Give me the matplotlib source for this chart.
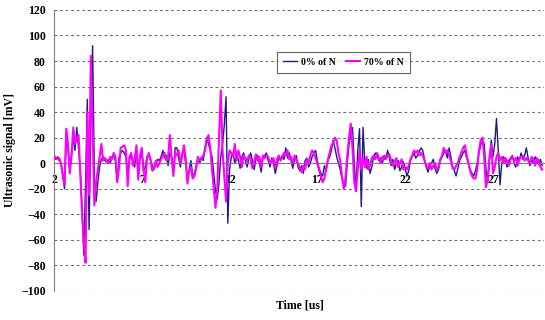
import numpy as np
import matplotlib
matplotlib.use("Agg")
import matplotlib.pyplot as plt

plt.rcParams['font.family'] = ['Liberation Serif', 'DejaVu Serif']
plt.rcParams['font.weight'] = 'bold'

# sampling of the two traces [us]
t_start = 2.0
t_step = 0.1

# ultrasonic signal [mV], one row per microsecond (2.0 ... 29.8 us)
sig_0 = [
    5, 3, 5, 2, 0, -8, -20, 18, 12, -6,          # 2
    8, 20, 10, 28, 12, -5, -35, -72, -15, 50,    # 3
    -52, 30, 92, -10, -30, -15, -3, 3, 5, 2,     # 4
    1, 3, 0, 4, 6, 2, -14, 4, 8, 10,             # 5
    8, 5, -10, 3, 6, 2, -3, 10, -8, 4,           # 6
    8, -6, -3, 5, 7, 2, -2, -5, 0, 3,            # 7
    2, 5, 10, 4, 6, -2, 8, 5, -6, 12,            # 8
    12, 4, -3, 8, 10, 0, -12, -5, 2, -10,        # 9
    -8, -2, 3, 0, 5, 2, 12, 20, 15, 10,          # 10
    5, -8, -22, -28, -15, 5, 15, 30, 52, -47,    # 11
    -5, 5, 8, 0, 6, 3, -4, 5, 8, 2,              # 12
    -3, 4, 8, 2, -5, 3, 6, 0, -7, 4,             # 13
    6, 8, 2, -3, 4, 0, -8, -2, 5, 3,             # 14
    6, 3, 12, 4, 8, 2, -4, 3, 6, -3,             # 15
    -6, -2, -8, 2, 4, -3, 0, 5, 8, 10,           # 16
    2, -4, -8, -10, -2, -6, 2, 5, 10, 18,        # 17
    12, 5, 0, -5, -12, -15, -18, 0, 15, 22,      # 18
    28, 0, -20, 10, 27, -34, 28, 0, -4, 3,       # 19
    -8, -3, 5, 8, 6, 2, 4, 0, 6, 3,              # 20
    10, 4, -2, 3, -5, 0, 2, -6, -3, 1,           # 21
    -4, -10, -6, 2, 5, 8, 4, 6, 9, 12,           # 22
    10, 3, -3, -7, -2, 0, 3, -4, -8, -5,         # 23
    2, 5, 8, 10, 4, 12, 5, -3, -6, -10,          # 24
    -4, 2, 5, 8, 10, 4, 0, -5, -8, -10,          # 25
    -6, 0, 8, 14, 18, 15, -5, -15, 2, 18,        # 26
    5, 15, 35, 10, -17, 0, 5, 3, -3, 2,          # 27
    4, 6, 0, -3, 5, 2, 8, 3, 6, 12,              # 28
    4, -2, 3, 0, 5, 2, -1, 3, -2,                # 29
]

sig_70 = [
    6, 4, 3, 4, 0, -10, -17, 27, 15, -8,         # 2
    5, 28, 15, 20, 22, -8, -40, -62, -78, 40,    # 3
    -25, 84, 25, -33, -15, -5, 5, 15, 2, 4,      # 4
    2, 0, 5, 3, 8, 5, -15, -4, 12, 13,           # 5
    14, 10, -18, 5, 8, -2, 4, 14, -13, 6,        # 6
    12, -5, -15, 4, 8, 3, -6, -4, 2, -3,         # 7
    0, 3, 6, 8, 2, 5, 22, 4, -10, 8,             # 8
    6, 10, 0, 5, 14, 4, -16, -6, -3, -12,        # 9
    -10, -4, 5, 2, 3, 6, 10, 18, 22, 12,         # 10
    -5, -20, -35, -20, 20, 57, 10, -10, -30, 0,  # 11
    10, 8, 5, 15, 2, 10, 5, -3, 6, 4,            # 12
    2, 6, 3, -4, 1, 7, 2, 5, -3, 6,              # 13
    4, 6, 5, 0, 2, 4, -4, 3, 6, 2,               # 14
    4, 8, 6, 10, 3, 5, 0, 6, 2, 0,               # 15
    -4, -7, -2, -5, 3, 0, 6, 10, 8, 4,           # 16
    0, -6, -10, -15, -12, -4, 3, 8, 14, 16,      # 17
    20, 18, 8, 2, -10, -20, -12, 5, 20, 31,      # 18
    12, -15, -22, -5, 10, -5, 4, -3, 5, -5,      # 19
    -2, 4, 6, 3, 8, 4, 0, 5, 3, 6,               # 20
    5, 7, 2, -2, 1, 4, -3, 0, 3, -5,             # 21
    -3, -5, -2, 3, 6, 10, 8, 10, 6, 8,           # 22
    6, 2, -2, -4, 0, -5, -2, 0, -5, -3,          # 23
    3, 6, 12, 8, 10, 6, 2, -4, -5, -2,           # 24
    0, 5, 8, 12, 14, 6, 0, -6, -10, -12,         # 25
    -12, -5, 10, 18, 20, 5, -19, -12, 5, 15,     # 26
    -8, -3, 5, 8, 2, 5, 0, 4, 2, -2,             # 27
    3, 5, 2, 4, -2, 3, 5, 6, 2, 4,               # 28
    2, 0, 5, 3, -2, 4, 2, -3, -5,                # 29
]

x_ticks = [2, 7, 12, 17, 22, 27]
y_ticks = list(range(-100, 121, 20))

time = t_start + t_step * np.arange(len(sig_0))

fig = plt.figure(figsize=(5.45, 3.2), dpi=100)
ax = fig.add_axes([0.099, 0.091, 0.899, 0.878])

# dashed horizontal grid
for y in y_ticks:
    ax.axhline(y, color='#707070', lw=0.8, ls=(0, (2.5, 2.5)), zorder=0)

ax.plot(time, sig_0, color='#1c1c85', lw=1.0, label='0% of N', zorder=2)
ax.plot(time, sig_70, color='#ff00ff', lw=1.5, label='70% of N', zorder=3)

ax.set_xlim(2, 29.9)
ax.set_ylim(-100, 120)
ax.set_xticks(x_ticks)
ax.set_yticks(y_ticks)

# axis crossing at zero
ax.spines['bottom'].set_position(('data', 0))
ax.spines['bottom'].set_color('#808080')
ax.spines['left'].set_color('#808080')
ax.spines['top'].set_visible(False)
ax.spines['right'].set_visible(False)
ax.tick_params(axis='x', length=0, pad=8, labelsize=8.5)
ax.tick_params(axis='y', length=0, pad=6, labelsize=8.5)

ax.set_ylabel('Ultrasonic signal [mV]', fontsize=8.5, fontweight='bold')
ax.yaxis.set_label_coords(-0.078, 0.5)
fig.text(0.55, 0.045, 'Time [us]', ha='center', va='center', fontsize=8.5, fontweight='bold')

leg = ax.legend(loc='upper left', bbox_to_anchor=(0.445, 0.868), ncol=2,
                fontsize=7, frameon=True, fancybox=False, handlelength=1.5,
                columnspacing=1.0, handletextpad=0.4, borderpad=0.6)
leg.get_frame().set_edgecolor('#404040')
leg.get_frame().set_linewidth(0.8)

fig.savefig('out.png', dpi=100)
